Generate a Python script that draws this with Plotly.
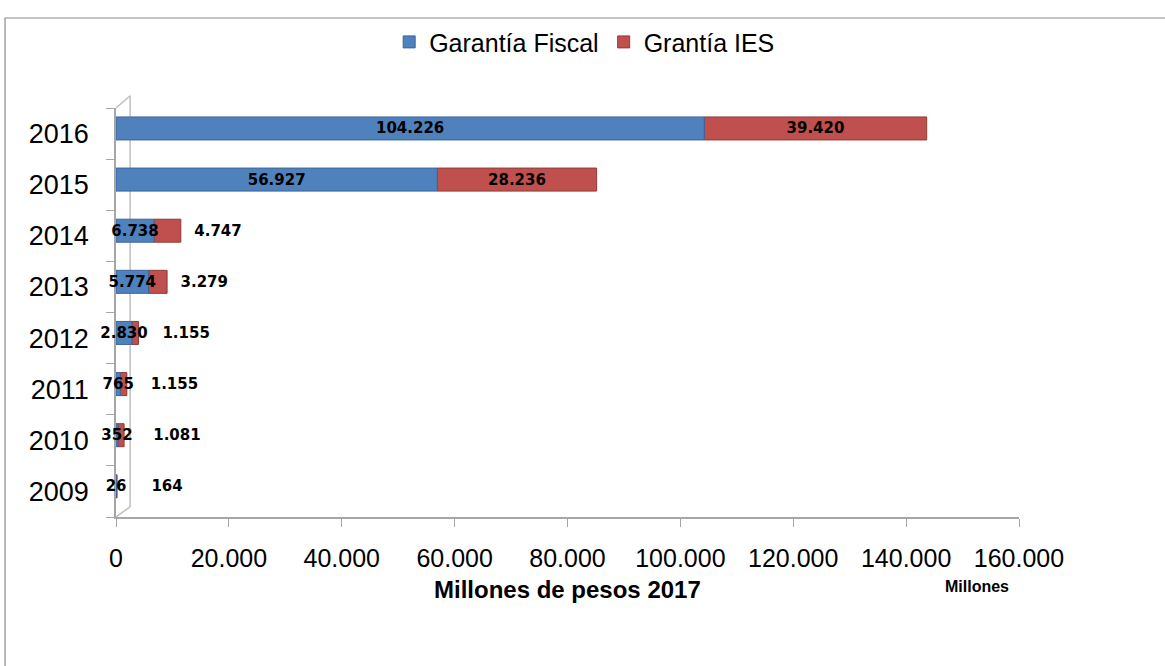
import plotly.graph_objects as go

years = ["2009", "2010", "2011", "2012", "2013", "2014", "2015", "2016"]
garantia_fiscal = [26, 352, 765, 2830, 5774, 6738, 56927, 104226]
grantia_ies = [164, 1081, 1155, 1155, 3279, 4747, 28236, 39420]
x_ticks = [0, 20000, 40000, 60000, 80000, 100000, 120000, 140000, 160000]

# label placement styling for the red series (outside for short bars, padding in spaces)
ies_text_pos = ["outside", "outside", "outside", "outside", "outside", "outside", "inside", "inside"]
ies_label_pad = [6, 5, 4, 4, 2, 2, 0, 0]

FONT = "Liberation Sans"
LABEL_FONT = "DejaVu Sans"
BLUE = "#4F81BD"
RED = "#C0504D"
GRID = "#A6A6A6"


def fmt(v):
    return f"{v:,}".replace(",", ".")


ies_text = ["\u00a0" * p + fmt(v) for v, p in zip(grantia_ies, ies_label_pad)]
fiscal_text = [fmt(v) for v in garantia_fiscal]

label_font = dict(family=LABEL_FONT, size=15, color="black", weight="bold")

fig = go.Figure()
# red segment stacked on top of the blue one (drawn first so blue labels stay on top)
fig.add_trace(go.Bar(
    y=years, x=grantia_ies, base=garantia_fiscal, orientation="h", name="Grantía IES",
    marker=dict(color=RED, line=dict(color="#8E3A38", width=1)),
    width=0.45, offset=-0.125,
    text=ies_text, textposition=ies_text_pos, insidetextanchor="middle",
    textangle=0, constraintext="none", cliponaxis=False,
    textfont=label_font, insidetextfont=label_font, outsidetextfont=label_font,
    legendrank=2, hoverinfo="skip",
))
fig.add_trace(go.Bar(
    y=years, x=garantia_fiscal, orientation="h", name="Garantía Fiscal",
    marker=dict(color=BLUE, line=dict(color="#3B659A", width=1)),
    width=0.45, offset=-0.125,
    text=fiscal_text, textposition="inside", insidetextanchor="middle",
    textangle=0, constraintext="none", cliponaxis=False,
    textfont=label_font, insidetextfont=label_font,
    legendrank=1, hoverinfo="skip",
))

fig.update_layout(
    width=1165, height=666,
    barmode="overlay",
    separators=",.",
    paper_bgcolor="white", plot_bgcolor="white",
    margin=dict(l=116, r=146, t=108, b=149),
    font=dict(family=FONT, size=25, color="black"),
    uniformtext=dict(minsize=15, mode="show"),
    legend=dict(orientation="h", x=0.519, y=1.161, xanchor="center", yanchor="middle",
                font=dict(family=FONT, size=25), itemwidth=30,
                bgcolor="rgba(0,0,0,0)"),
    xaxis=dict(range=[0, 160000], tickvals=x_ticks, tickformat=",d",
               showgrid=False, zeroline=False, showline=True, linecolor=GRID, linewidth=1.5,
               ticks="outside", ticklen=8, tickcolor=GRID, ticklabelstandoff=10,
               layer="below traces",
               tickfont=dict(family=FONT, size=25, color="black")),
    yaxis=dict(type="category", categoryorder="array", categoryarray=years,
               range=[-0.5, 7.5], showgrid=False, zeroline=False,
               showline=True, linecolor=GRID, linewidth=1.5,
               ticks="outside", ticklen=8, tickcolor=GRID, tickson="boundaries",
               ticklabelstandoff=20, layer="below traces",
               tickfont=dict(family=FONT, size=27, color="black")),
    annotations=[
        dict(text="<b>Millones de pesos 2017</b>", xref="paper", yref="paper",
             x=0.5, y=-0.178, xanchor="center", yanchor="middle", showarrow=False,
             font=dict(family=FONT, size=24, color="black")),
        dict(text="<b>Millones</b>", xref="paper", yref="paper",
             x=0.953, y=-0.171, xanchor="center", yanchor="middle", showarrow=False,
             font=dict(family=FONT, size=16, color="black")),
    ],
    shapes=[
        dict(type="rect", xref="paper", yref="paper", x0=-0.1229, x1=1.4, y0=-0.6, y1=1.220,
             line=dict(color="#8C8C8C", width=1.2), fillcolor="rgba(0,0,0,0)", layer="below"),
        dict(type="line", xref="x", yref="paper", x0=2500, x1=2500, y0=0.025, y1=1.03,
             line=dict(color="#BFBFBF", width=1.5), layer="below"),
        dict(type="line", xref="x", yref="paper", x0=0, x1=2500, y0=1.0, y1=1.03,
             line=dict(color="#BFBFBF", width=1.5), layer="below"),
        dict(type="line", xref="x", yref="paper", x0=0, x1=2500, y0=0.0, y1=0.025,
             line=dict(color="#BFBFBF", width=1.5), layer="below"),
    ],
)

fig.write_html(
    "out.html",
    config={"displayModeBar": False},
    post_script="document.body.style.margin='0';document.body.style.padding='0';",
)
